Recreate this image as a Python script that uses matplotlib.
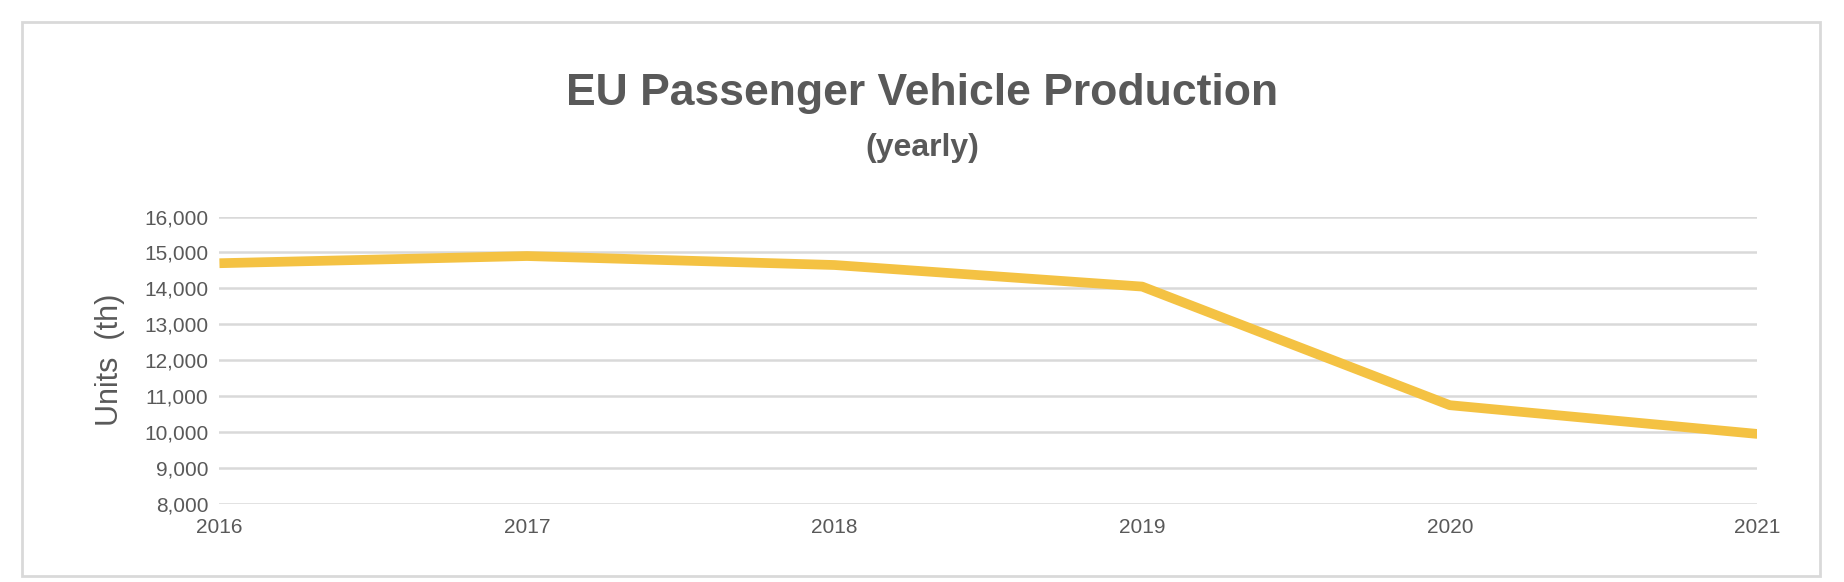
import matplotlib
matplotlib.use('Agg')
import matplotlib.pyplot as plt
from matplotlib.patches import Rectangle
from matplotlib.ticker import FuncFormatter

years = [2016, 2017, 2018, 2019, 2020, 2021]
production = [14700, 14900, 14650, 14050, 10750, 9950]
y_ticks = list(range(8000, 16001, 1000))

plt.rcParams['font.family'] = ['Liberation Sans', 'DejaVu Sans']
grey = '#595959'

fig = plt.figure(figsize=[18.44, 5.82], dpi=100)
fig.patches.append(Rectangle((0.012, 0.01), 0.975, 0.952, transform=fig.transFigure,
                             fill=False, edgecolor='#D9D9D9', linewidth=2))
ax = fig.add_axes([0.119, 0.134, 0.834, 0.494])
ax.plot(years, production, color='#F4C243', linewidth=7, solid_capstyle='butt')
ax.set_xlim(2016, 2021)
ax.set_ylim(8000, 16000)
ax.set_yticks(y_ticks)
ax.set_xticks(years)
ax.yaxis.set_major_formatter(FuncFormatter(lambda v, p: f'{int(v):,}'))
ax.grid(axis='y', color='#D9D9D9', linewidth=1.8)
ax.set_axisbelow(True)
for s in ax.spines.values():
    s.set_visible(False)
ax.tick_params(length=0, labelsize=15, labelcolor=grey, pad=8)
ax.tick_params(axis='x', pad=10)
ax.set_ylabel('Units  (th)', fontsize=22, color=grey, labelpad=14)

fig.text(0.5, 0.84, 'EU Passenger Vehicle Production', ha='center', va='center',
         fontsize=32, fontweight='bold', color=grey)
fig.text(0.5, 0.745, '(yearly)', ha='center', va='center',
         fontsize=23, fontweight='bold', color=grey)

fig.savefig('out.png', dpi=100)
